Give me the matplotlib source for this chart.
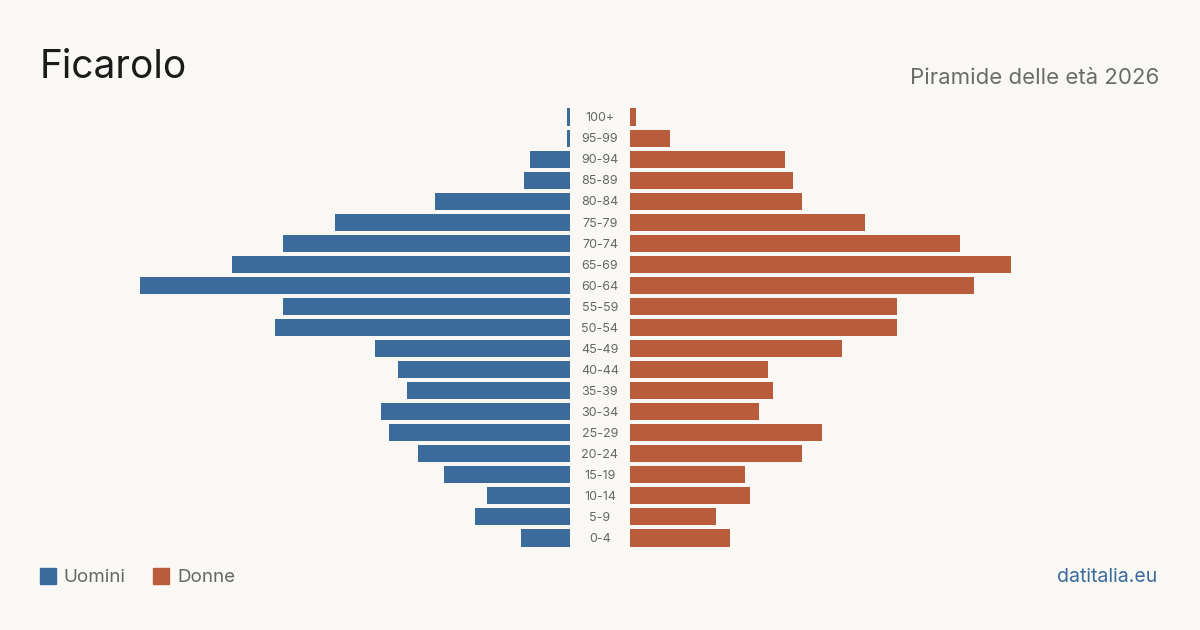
import matplotlib
matplotlib.use("Agg")
import matplotlib.pyplot as plt
from matplotlib.patches import Rectangle

age_groups = ["0-4", "5-9", "10-14", "15-19", "20-24", "25-29", "30-34", "35-39",
              "40-44", "45-49", "50-54", "55-59", "60-64", "65-69", "70-74", "75-79",
              "80-84", "85-89", "90-94", "95-99", "100+"]
men = [17, 33, 29, 44, 53, 63, 66, 57, 60, 68, 103, 100, 150, 118, 100, 82, 47, 16, 14, 1, 1]
women = [35, 30, 42, 40, 60, 67, 45, 50, 48, 74, 93, 93, 120, 133, 115, 82, 60, 57, 54, 14, 2]

title = "Ficarolo"
subtitle = "Piramide delle età 2026"
legend_labels = ["Uomini", "Donne"]
source = "datitalia.eu"

BG = "#f9f8f4"
BLUE = "#3a6b9b"
ORANGE = "#b95c3c"
FONT = "Inter"

W, H = 1200, 630
fig = plt.figure(figsize=(W / 100, H / 100), dpi=100, facecolor=BG)

xmax = 440 / 2.867
n = len(age_groups)
top_px, bot_px = 106.5, 548.5  # bar area
ax_h = (bot_px - top_px) / H
ax_b = 1 - bot_px / H

axL = fig.add_axes([130 / W, ax_b, 440 / W, ax_h])
axR = fig.add_axes([630 / W, ax_b, 440 / W, ax_h])
axC = fig.add_axes([570 / W, ax_b, 60 / W, ax_h])

ys = list(range(n))
axL.barh(ys, men, height=0.81, color=BLUE)
axR.barh(ys, women, height=0.81, color=ORANGE)
axL.set_xlim(xmax, 0)
axR.set_xlim(0, xmax)
for a in (axL, axR, axC):
    a.set_ylim(-0.5, n - 0.5)
    a.set_facecolor("none")
    a.axis("off")
axC.set_xlim(0, 1)
for y, lab in zip(ys, age_groups):
    axC.text(0.5, y - 0.06, lab, ha="center", va="center", fontsize=9,
             color="#666666", family=FONT)

fig.text(40 / W, 1 - 68 / H, title, fontsize=28, color="#1a1a1a",
         family=FONT, va="center", ha="left")
fig.text(1159 / W, 1 - 78 / H, subtitle, fontsize=16, color="#6b6b6b",
         family=FONT, va="center", ha="right")

# legend
fig.patches.append(Rectangle((40 / W, 1 - 584 / H), 16 / W, 16 / H,
                             transform=fig.transFigure, color=BLUE))
fig.text(63 / W, 1 - 578 / H, legend_labels[0], fontsize=13.5, color="#666666",
         family=FONT, va="center", ha="left")
fig.patches.append(Rectangle((153 / W, 1 - 584 / H), 16 / W, 16 / H,
                             transform=fig.transFigure, color=ORANGE))
fig.text(177 / W, 1 - 578 / H, legend_labels[1], fontsize=13.5, color="#666666",
         family=FONT, va="center", ha="left")

fig.text(1157 / W, 1 - 577 / H, source, fontsize=14, color="#3a6b9b",
         family=FONT, va="center", ha="right")

fig.savefig("out.png", dpi=100, facecolor=BG)
